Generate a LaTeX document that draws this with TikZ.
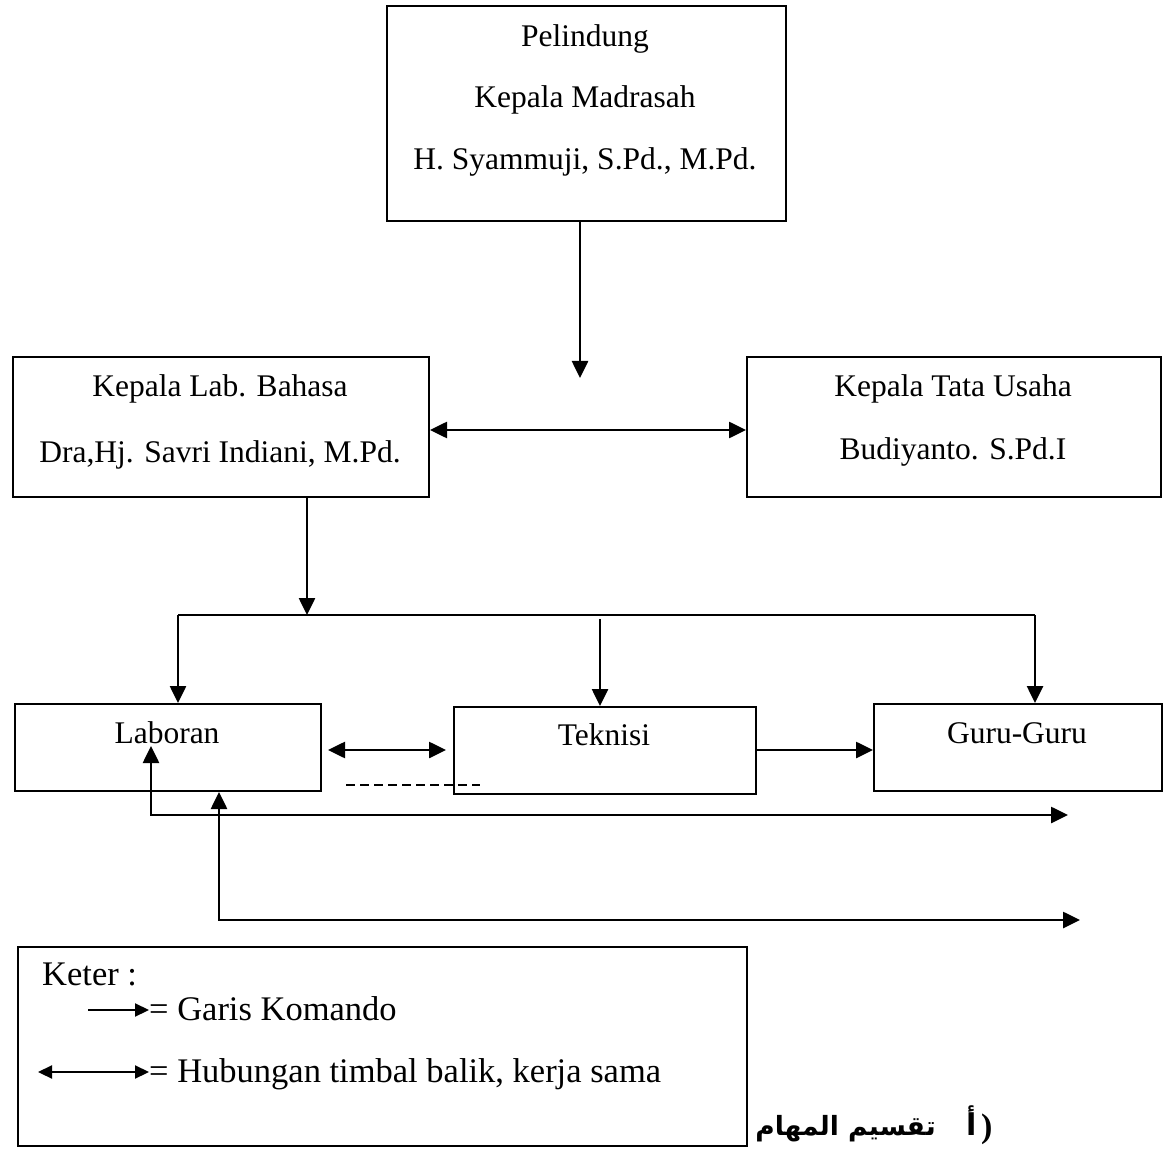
\documentclass[tikz,border=0pt]{standalone}
\usepackage{fontspec}
\setmainfont{Liberation Serif}
\newfontfamily\arabicfont[Script=Arabic]{DejaVu Sans}
\TeXXeTstate=1
\usetikzlibrary{arrows.meta}
\begin{document}
\begin{tikzpicture}[x=1pt,y=-1pt,
  box/.style={draw, line width=2pt, inner sep=0pt, anchor=north west},
  txt/.style={anchor=base, inner sep=0pt, font=\fontsize{31.5}{36}\selectfont},
  legtxt/.style={anchor=base west, inner sep=0pt, font=\fontsize{34.5}{40}\selectfont},
  cmd/.style={line width=2.6pt, -{Triangle[length=17pt,width=16pt]}},
  dbl/.style={line width=2.6pt, {Triangle[length=17pt,width=16pt]}-{Triangle[length=17pt,width=16pt]}},
  lcmd/.style={line width=2.2pt, -{Triangle[length=14pt,width=13pt]}},
  ldbl/.style={line width=2.2pt, {Triangle[length=14pt,width=13pt]}-{Triangle[length=14pt,width=13pt]}},
  plain/.style={line width=2.6pt},
]
\useasboundingbox (0,0) rectangle (1163,1150);

% boxes
\node[box, minimum width=399pt, minimum height=215pt] (top) at (386,5) {};
\node[box, minimum width=416pt, minimum height=140pt] (lab) at (12,356) {};
\node[box, minimum width=414pt, minimum height=140pt] (ktu) at (746,356) {};
\node[box, minimum width=306pt, minimum height=87pt] (labor) at (14,703) {};
\node[box, minimum width=302pt, minimum height=87pt] (tek) at (453,706) {};
\node[box, minimum width=288pt, minimum height=87pt] (guru) at (873,703) {};
\node[box, minimum width=729pt, minimum height=199pt] (leg) at (17,946) {};

% texts
\node[txt] (t1) at (585,47) {Pelindung};
\node[txt] (t2) at (585,108) {Kepala Madrasah};
\node[txt] (t3) at (585,170) {H. Syammuji, S.Pd., M.Pd.};
\node[txt] (t4) at (220,397) {Kepala Lab. Bahasa};
\node[txt] (t5) at (220,462) {Dra,Hj. Savri Indiani, M.Pd.};
\node[txt] (t6) at (953,397) {Kepala Tata Usaha};
\node[txt] (t7) at (953,460) {Budiyanto. S.Pd.I};
\node[txt] (t8) at (167,743) {Laboran};
\node[txt] (t9) at (604,745) {Teknisi};
\node[txt] (t10) at (1017,743) {Guru-Guru};

% connectors
\coordinate (drop1) at (580,378);
\draw[cmd] (drop1 |- top.south) -- (drop1);
\draw[dbl] (lab.east |- 0,430) -- (ktu.west |- 0,430);
\coordinate (bus0) at (307,615);
\draw[cmd] (bus0 |- lab.south) -- (bus0);
\coordinate (busL) at (178,615);
\coordinate (busR) at (1035,615);
\coordinate (busM) at (600,619);
\draw[plain] (busL) -- (busR);
\draw[cmd] (busL) -- (busL |- labor.north);
\draw[cmd] (busM) -- (busM |- tek.north);
\draw[cmd] (busR) -- (busR |- guru.north);

\coordinate (lt1) at (328,750);
\coordinate (lt2) at (446,750);
\draw[dbl] (lt1) -- (lt2);
\coordinate (ds1) at (346,785);
\coordinate (ds2) at (480,785);
\draw[line width=1.8pt, dash pattern=on 9pt off 5pt] (ds1) -- (ds2);
\draw[cmd] (tek.east |- 0,750) -- (guru.west |- 0,750);

\coordinate (fb1) at (151,746);
\coordinate (fb1e) at (1068,815);
\draw[dbl] (fb1) -- (fb1 |- fb1e) -- (fb1e);
\coordinate (fb2) at (219,920);
\coordinate (fb2e) at (1080,920);
\draw[dbl] (fb2 |- labor.south) -- (fb2) -- (fb2e);

% legend
\node[legtxt] (k0) at (42,985) {Keter :};
\coordinate (la1) at (88,1010);
\coordinate (la2) at (149,1010);
\draw[lcmd] (la1) -- (la2);
\node[legtxt] (k1) at (149,1020) {= Garis Komando};
\coordinate (lb1) at (38,1072);
\coordinate (lb2) at (149,1072);
\draw[ldbl] (lb1) -- (lb2);
\node[legtxt] (k2) at (149,1082) {= Hubungan timbal balik, kerja sama};

% arabic heading
\node[anchor=base east, inner sep=0pt, font=\fontsize{26.5}{32}\selectfont] (ar1) at (936,1135) {\arabicfont\bfseries\beginR تقسيم المهام\endR};
\node[anchor=base west, inner sep=0pt, font=\fontsize{30}{36}\selectfont] (ar2) at (966,1135) {\arabicfont\bfseries أ};
\node[anchor=base west, inner sep=0pt, font=\fontsize{34}{40}\selectfont\bfseries] (ar3) at (981,1137) {)};
\end{tikzpicture}
\end{document}
